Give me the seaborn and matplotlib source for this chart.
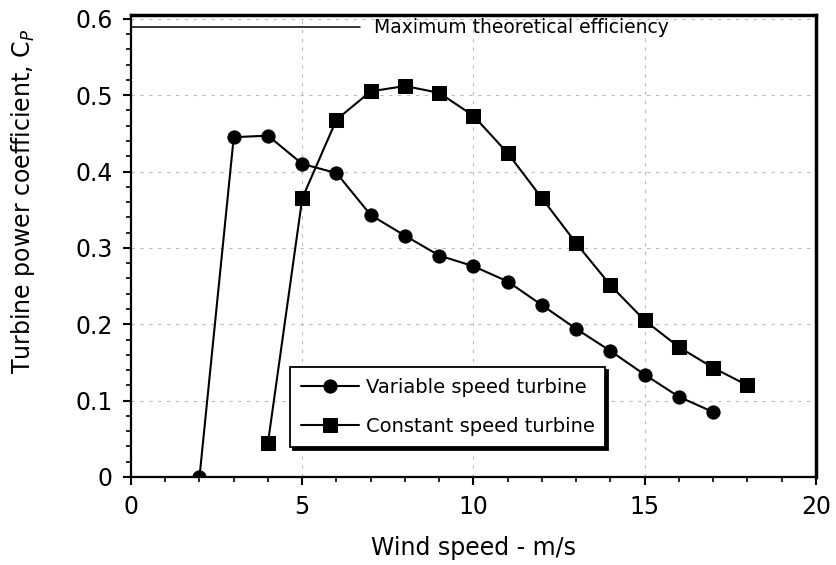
import matplotlib
matplotlib.use("Agg")
import matplotlib.pyplot as plt
import seaborn as sns
import pandas as pd
from matplotlib.ticker import MultipleLocator

var_speed = [2, 3, 4, 5, 6, 7, 8, 9, 10, 11, 12, 13, 14, 15, 16, 17]
var_cp = [0.0, 0.445, 0.447, 0.41, 0.398, 0.343, 0.316, 0.29, 0.276, 0.256,
          0.225, 0.194, 0.165, 0.134, 0.105, 0.085]
const_speed = [4, 5, 6, 7, 8, 9, 10, 11, 12, 13, 14, 15, 16, 17, 18]
const_cp = [0.045, 0.365, 0.468, 0.505, 0.512, 0.503, 0.473, 0.424, 0.365,
            0.306, 0.251, 0.205, 0.17, 0.143, 0.12]
series_names = ["Variable speed turbine", "Constant speed turbine"]
betz_limit = 0.589
betz_x = [0, 6.7]
betz_label = "Maximum theoretical efficiency"
x_ticks = [0, 5, 10, 15, 20]
y_ticks = [0, 0.1, 0.2, 0.3, 0.4, 0.5, 0.6]
y_ticklabels = ["0", "0.1", "0.2", "0.3", "0.4", "0.5", "0.6"]

df = pd.concat([
    pd.DataFrame({"speed": var_speed, "cp": var_cp, "turbine": series_names[0]}),
    pd.DataFrame({"speed": const_speed, "cp": const_cp, "turbine": series_names[1]}),
])

sns.set_style("white")
plt.rcParams["font.family"] = ["DejaVu Sans"]
plt.rcParams["mathtext.fontset"] = "dejavusans"
for k in ["text.color", "axes.labelcolor", "xtick.color", "ytick.color"]:
    plt.rcParams[k] = "black"

fig = plt.figure(figsize=(8.37, 5.65), dpi=100)
ax = fig.add_axes([131 / 837, 1 - 477 / 565, 685 / 837, 462 / 565])

sns.lineplot(data=df, x="speed", y="cp", hue="turbine", style="turbine",
             palette={series_names[0]: "black", series_names[1]: "black"},
             markers={series_names[0]: "o", series_names[1]: "s"},
             dashes=False, markersize=9.5, linewidth=1.5, ax=ax,
             markeredgecolor="black")

ax.plot(betz_x, [betz_limit, betz_limit], color="black", linewidth=1.1)
ax.text(7.1, betz_limit, betz_label, fontsize=13.5, va="center", ha="left")

ax.set_xlim(0, 20)
ax.set_ylim(0, 0.605)
ax.set_xticks(x_ticks)
ax.xaxis.set_minor_locator(MultipleLocator(1))
ax.set_yticks(y_ticks)
ax.set_yticklabels(y_ticklabels)
ax.yaxis.set_minor_locator(MultipleLocator(0.02))
ax.tick_params(axis="both", which="major", direction="out", length=6, width=1.5,
               labelsize=17, pad=7, bottom=True, left=True)
ax.tick_params(axis="both", which="minor", direction="out", length=3.5, width=1.2,
               bottom=True, left=True)
ax.grid(True, which="major", color="#bbbbbb", linestyle=(0, (3, 5)), linewidth=0.8)

for side, sp in ax.spines.items():
    sp.set_color("black")
    sp.set_linewidth(2.5 if side in ("top", "right") else 1.6)
    sp.set_visible(True)

ax.set_xlabel("Wind speed - m/s", fontsize=17, labelpad=12)
ax.set_ylabel("Turbine power coefficient, C$_P$", fontsize=17)
ax.yaxis.set_label_coords(-0.137, 0.597)

leg = ax.legend(loc="upper left", bbox_to_anchor=(0.232, 0.238), fontsize=14,
                frameon=True, fancybox=False,
                shadow={"color": "black", "alpha": 1, "ox": 2.2, "oy": -2.2},
                edgecolor="black", handlelength=3.0, handletextpad=0.35,
                borderpad=0.55, labelspacing=1.05, borderaxespad=0)
leg.get_frame().set_linewidth(1.3)
leg.get_frame().set_alpha(1)

fig.savefig("out.png", dpi=100)
